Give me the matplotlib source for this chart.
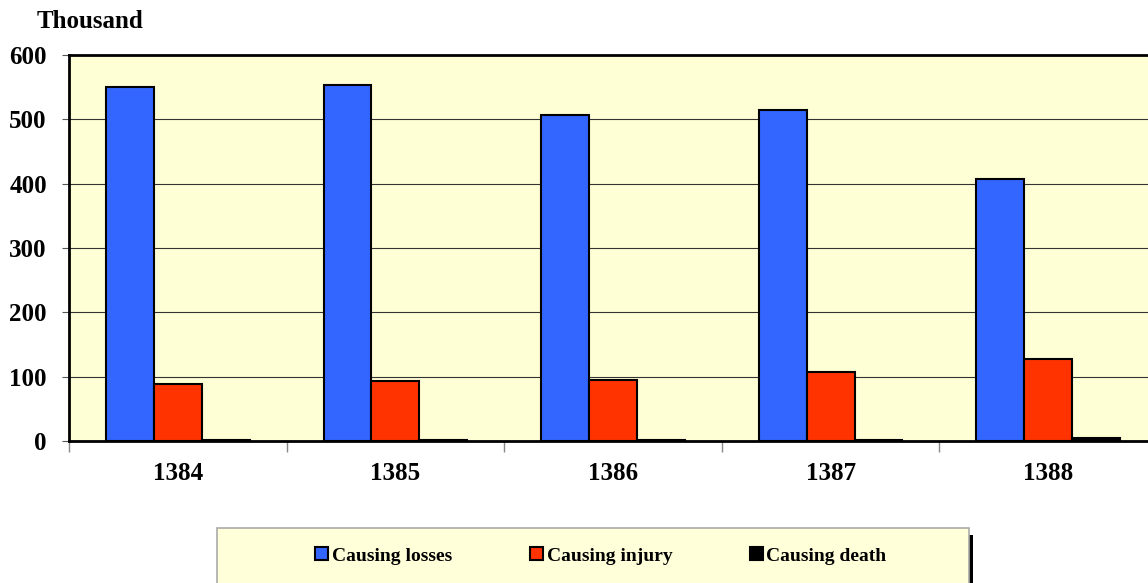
import numpy as np
import matplotlib.pyplot as plt
from matplotlib.patches import Rectangle

years = ['1384', '1385', '1386', '1387', '1388']
losses = [551, 553, 506, 514, 408]
injury = [88, 94, 95, 108, 128]
death = [1.5, 1.5, 1.5, 1.5, 4]
series_names = ['Causing losses', 'Causing injury', 'Causing death']
colors = ['#3366FF', '#FF3300', '#000000']

plt.rcParams['font.family'] = ['Liberation Serif', 'DejaVu Serif']
plt.rcParams['font.weight'] = 'bold'

fig = plt.figure(figsize=(11.48, 5.83), dpi=100)
ax = fig.add_axes([69 / 1148, 142 / 583, 1088 / 1148, 386 / 583])
ax.set_facecolor('#FFFFD5')

x = np.arange(len(years))
w = 0.22
handles = []
for i, (vals, c, name) in enumerate(zip([losses, injury, death], colors, series_names)):
    b = ax.bar(x + (i - 1) * w, vals, w, color=c, edgecolor='black', linewidth=1.5,
               label=name, zorder=3)
    handles.append(b)

ax.set_xlim(-0.5, len(years) - 0.5)
ax.set_ylim(0, 600)
ax.set_yticks(range(0, 601, 100))
ax.tick_params(axis='y', labelsize=18, length=5, width=0.8, color='#555555', pad=11)
ax.yaxis.grid(True, color='#333333', linewidth=0.8, zorder=0)

ax.set_xticks(x)
ax.set_xticklabels(years, fontsize=18, fontweight='bold')
ax.tick_params(axis='x', length=0, pad=15)
ax.set_xticks(np.arange(-0.5, len(years), 1), minor=True)
ax.tick_params(axis='x', which='minor', length=8, color='#888888', width=1)

for s in ax.spines.values():
    s.set_linewidth(2)
    s.set_color('black')

fig.text(37 / 1148, 1 - 21 / 583, 'Thousand', fontsize=18, fontweight='bold',
         va='center', ha='left')

# legend box with shadow
fig.patches.append(Rectangle((221 / 1148, 0), 752 / 1148, 48 / 583,
                             transform=fig.transFigure, facecolor='black',
                             edgecolor='none', zorder=1))
fig.patches.append(Rectangle((217 / 1148, -5 / 583), 752 / 1148, 60 / 583,
                             transform=fig.transFigure, facecolor='#FFFFD9',
                             edgecolor='#AAAAAA', linewidth=1.2, zorder=2))
leg = fig.legend(handles=handles, loc='center', bbox_to_anchor=(601 / 1148, 27 / 583),
                 ncol=3, frameon=False, fontsize=14, handlelength=0.65, handleheight=0.65,
                 handletextpad=0.2, columnspacing=4.0)
for h in leg.legend_handles:
    h.set_linewidth(1.5)

fig.savefig('out.png', dpi=100)
